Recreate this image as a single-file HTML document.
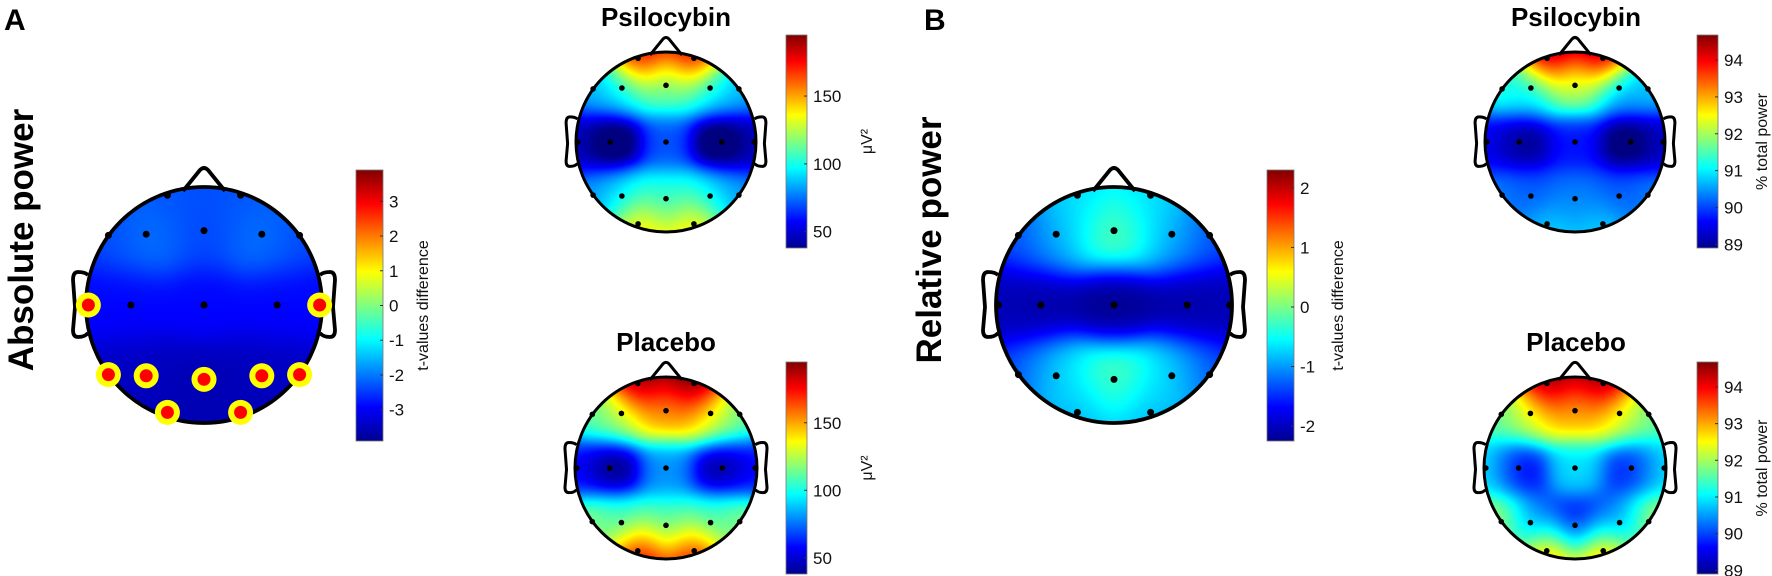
<!DOCTYPE html>
<html><head><meta charset="utf-8"><style>
html,body{margin:0;padding:0;background:#fff;}
#wrap{position:relative;width:1772px;height:576px;overflow:hidden;font-family:"Liberation Sans",Arial,sans-serif;}
canvas,svg{position:absolute;left:0;top:0;}
</style></head><body>
<div id="wrap">
<canvas id="cv" width="1772" height="576"></canvas>
<svg id="sv" width="1772" height="576" xmlns="http://www.w3.org/2000/svg">
<defs>
<linearGradient id="jet" x1="0" y1="1" x2="0" y2="0">
<stop offset="0" stop-color="#00008f"/><stop offset="0.125" stop-color="#0000ff"/><stop offset="0.375" stop-color="#00ffff"/><stop offset="0.5" stop-color="#80ff80"/><stop offset="0.625" stop-color="#ffff00"/><stop offset="0.875" stop-color="#ff0000"/><stop offset="1" stop-color="#800000"/>
</linearGradient>
</defs>
<text x="4" y="30" font-size="30" font-weight="bold">A</text>
<text x="924" y="30" font-size="30" font-weight="bold">B</text>
<text transform="translate(33,240) rotate(-90)" text-anchor="middle" font-size="35" font-weight="bold">Absolute power</text>
<text transform="translate(941,240) rotate(-90)" text-anchor="middle" font-size="35" font-weight="bold">Relative power</text>
<text x="666" y="26" text-anchor="middle" font-size="26" font-weight="bold">Psilocybin</text>
<text x="666" y="351" text-anchor="middle" font-size="26" font-weight="bold">Placebo</text>
<text x="1576" y="26" text-anchor="middle" font-size="26" font-weight="bold">Psilocybin</text>
<text x="1576" y="351" text-anchor="middle" font-size="26" font-weight="bold">Placebo</text>
<g id="heads"></g>
<g id="bars"></g>
</svg>
</div>
<script>
// Electrode order: Fp1,Fp2,F7,F3,Fz,F4,F8,T7,C3,Cz,C4,T8,P7,P3,Pz,P4,P8,O1,O2
const electrodeNames = ["Fp1","Fp2","F7","F3","Fz","F4","F8","T7","C3","Cz","C4","T8","P7","P3","Pz","P4","P8","O1","O2"];
const absTValues   = [-2.3,-2.3,-2.4,-2.0,-2.4,-2.0,-2.4,-2.9,-2.9,-2.9,-2.9,-2.9,-3.4,-3.4,-3.5,-3.4,-3.4,-3.5,-3.5];
const absSignificant = [0,0,0,0,0,0,0,1,0,0,0,1,1,1,1,1,1,1,1];
const psiAbsValues = [185,185,85,95,110,95,85,50,25,70,25,50,80,95,100,95,80,145,145];
const plaAbsValues = [200,205,110,125,150,135,110,60,35,80,40,60,120,100,105,100,120,185,180];
const relTValues   = [-0.7,-0.7,-1.4,-0.8,-0.1,-0.8,-1.4,-2.0,-2.1,-2.2,-2.1,-2.0,-1.4,-0.6,-0.1,-0.6,-1.4,-0.9,-0.9];
const psiRelValues = [94.8,94.8,91.3,90.8,92.0,90.4,90.8,89.6,88.9,89.7,88.6,89.4,90.4,90.0,90.3,90.0,90.4,90.9,90.9];
const plaRelValues = [94.8,94.8,91.6,92.4,92.9,92.4,91.6,91,89.5,90.9,89.7,91,92.3,90.0,89.5,90.0,92.3,93.3,93.3];
const absTTicks = [3,2,1,0,-1,-2,-3];
const absPowTicks = [150,100,50];
const relTTicks = [2,1,0,-1,-2];
const relPowTicks = [94,93,92,91,90,89];

// layout (normalized electrode positions)
const ex = [-0.31,0.31,-0.81,-0.49,0,0.49,0.81,-0.98,-0.62,0,0.62,0.98,-0.81,-0.49,0,0.49,0.81,-0.31,0.31];
const ey = [-0.93,-0.93,-0.59,-0.6,-0.63,-0.6,-0.59,0,0,0,0,0,0.59,0.6,0.63,0.6,0.59,0.91,0.91];

const maps = [
 {id:"abs-t", cx:204, cy:305, r:118, vals:absTValues, vmin:-3.9, vmax:3.9, sig:absSignificant,
  bar:{x:356,y:170,w:27,h:271,ticks:absTTicks,label:"t-values difference",lx:428,fs:14}},
 {id:"psi-abs", cx:666, cy:142, r:90, vals:psiAbsValues, vmin:38, vmax:195,
  bar:{x:786,y:35,w:21,h:213,ticks:absPowTicks,label:"μV²",lx:872,fs:14}},
 {id:"pla-abs", cx:666, cy:468, r:91, vals:plaAbsValues, vmin:38, vmax:195,
  bar:{x:786,y:362,w:21,h:212,ticks:absPowTicks,label:"μV²",lx:872,fs:14}},
 {id:"rel-t", cx:1114, cy:305, r:118, vals:relTValues, vmin:-2.25, vmax:2.3,
  bar:{x:1267,y:170,w:27,h:271,ticks:relTTicks,label:"t-values difference",lx:1343,fs:14}},
 {id:"psi-rel", cx:1575, cy:142, r:90, vals:psiRelValues, vmin:88.9, vmax:94.68,
  bar:{x:1697,y:35,w:21,h:213,ticks:relPowTicks,label:"% total power",lx:1767,fs:14}},
 {id:"pla-rel", cx:1575, cy:468, r:91, vals:plaRelValues, vmin:88.9, vmax:94.68,
  bar:{x:1697,y:362,w:21,h:212,ticks:relPowTicks,label:"% total power",lx:1767,fs:14}}
];

function clamp(v){return v<0?0:v>1?1:v;}
function jet(t){t=clamp(t);return [clamp(1.5-Math.abs(4*t-3)),clamp(1.5-Math.abs(4*t-2)),clamp(1.5-Math.abs(4*t-1))];}

const cv=document.getElementById('cv');const ctx=cv.getContext('2d');
const img=ctx.createImageData(1772,576);
const NS="http://www.w3.org/2000/svg";
const heads=document.getElementById('heads');const bars=document.getElementById('bars');
function mk(tag,attrs,parent){const e=document.createElementNS(NS,tag);for(const k in attrs)e.setAttribute(k,attrs[k]);parent.appendChild(e);return e;}
const SIG2=0.3*0.3;

maps.forEach(m=>{
 for(let py=Math.floor(m.cy-m.r);py<=m.cy+m.r;py++){
  for(let px=Math.floor(m.cx-m.r);px<=m.cx+m.r;px++){
   const nx=(px-m.cx)/m.r, ny=(py-m.cy)/m.r;
   if(nx*nx+ny*ny>1)continue;
   let sw=0,sv=0;
   for(let i=0;i<m.vals.length;i++){const dx=nx-ex[i],dy=ny-ey[i];const w=Math.exp(-(dx*dx+dy*dy)/SIG2)+1e-9;sw+=w;sv+=w*m.vals[i];}
   const v=sv/sw;const c=jet((v-m.vmin)/(m.vmax-m.vmin));
   const o=(py*1772+px)*4;img.data[o]=c[0]*255;img.data[o+1]=c[1]*255;img.data[o+2]=c[2]*255;img.data[o+3]=255;
  }
 }
 const g=mk('g',{},heads);
 
 
 const s=m.r/118, sw=Math.max(3,3.8*s);
 const nose=mk('path',{d:`M${m.cx-21*s},${m.cy-m.r+4*s} L${m.cx-4*s},${m.cy-m.r-17*s} Q${m.cx},${m.cy-m.r-21*s} ${m.cx+4*s},${m.cy-m.r-17*s} L${m.cx+21*s},${m.cy-m.r+4*s}`,fill:'none',stroke:'#000','stroke-width':sw,'stroke-linejoin':'round'},g);
 
 
 [-1,1].forEach(sd=>{
  const x0=m.cx+sd*(m.r-2*s), x1=m.cx+sd*(m.r+13*s);
  const ear=mk('path',{d:`M${x0},${m.cy-30*s} Q${x0+sd*3*s},${m.cy-33*s} ${x1-sd*5*s},${m.cy-33*s} Q${x1},${m.cy-33*s} ${x1},${m.cy-25*s} L${x1-sd*2*s},${m.cy+2*s} L${x1},${m.cy+25*s} Q${x1},${m.cy+32*s} ${x1-sd*5*s},${m.cy+32*s} Q${x0+sd*3*s},${m.cy+32*s} ${x0},${m.cy+28*s}`,fill:'none',stroke:'#000','stroke-width':sw,'stroke-linejoin':'round'},g);
  
  
 });
 const hc=mk('circle',{cx:m.cx,cy:m.cy,r:m.r,fill:'none',stroke:'#000','stroke-width':sw},g);
 
 
 for(let i=0;i<ex.length;i++){
  const X=m.cx+ex[i]*m.r, Y=m.cy+ey[i]*m.r;
  if(m.sig&&m.sig[i]){
   const y1=mk('circle',{cx:X,cy:Y,r:12.5,fill:'#ffff00'},g);
   
   
   mk('circle',{cx:X,cy:Y,r:6.5,fill:'#ff0000'},g);
  } else {
   const d=mk('circle',{cx:X,cy:Y,r:Math.max(2.8,3.5*s),fill:'#000'},g);
   
   
  }
 }
 const b=m.bar;const bg=mk('g',{},bars);
 
 
 mk('rect',{x:b.x,y:b.y,width:b.w,height:b.h,fill:'url(#jet)',stroke:'#777','stroke-width':0.8},bg);
 b.ticks.forEach(t=>{
  const y=b.y+b.h*(1-(t-m.vmin)/(m.vmax-m.vmin));
  mk('line',{x1:b.x+b.w-3,y1:y,x2:b.x+b.w,y2:y,stroke:'#333','stroke-width':1},bg);
  const tx=mk('text',{x:b.x+b.w+6,y:y+6,'font-size':17,fill:'#111'},bg);
  tx.textContent=t;
  
  
 });
 const lb=mk('text',{transform:`translate(${b.lx},${b.y+b.h/2}) rotate(-90)`,'text-anchor':'middle','font-size':16,fill:'#111'},bg);
 lb.textContent=b.label;
 
 
});
ctx.putImageData(img,0,0);
</script>
</body></html>
